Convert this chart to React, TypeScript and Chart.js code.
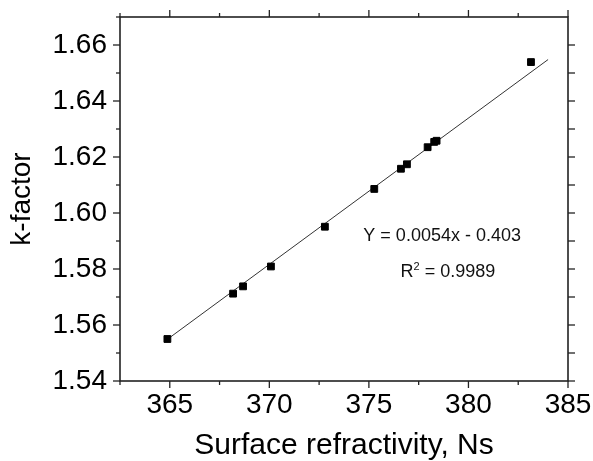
import { useEffect, useRef } from "react";
import { Chart, registerables } from "chart.js";

Chart.register(...registerables);

const FONT = '"Liberation Sans", Arial, sans-serif';

// Data
const surfaceRefractivity = [364.88, 368.18, 368.68, 370.08, 372.79, 375.27, 376.61, 376.91, 377.95, 378.28, 378.4, 383.14];
const kFactor = [1.555, 1.5712, 1.5738, 1.5809, 1.5951, 1.6086, 1.6158, 1.6174, 1.6235, 1.6254, 1.6258, 1.6539];
const fitLineX = [364.9, 384.0];
const fitLineY = [1.555, 1.6548];

// Axis ticks
const xMajorTicks = [365, 370, 375, 380, 385];
const xMinorTicks = [362.5, 367.5, 372.5, 377.5, 382.5];
const yMajorTicks = [1.54, 1.56, 1.58, 1.6, 1.62, 1.64, 1.66];
const yMinorTicks = [1.55, 1.57, 1.59, 1.61, 1.63, 1.65, 1.67];

const equationText = "Y = 0.0054x - 0.403";
const r2Base = "R";
const r2Sup = "2";
const r2Rest = " = 0.9989";

// annotation anchor positions (data units)
const eqAnchor = { x: 378.68, y: 1.5901 };
const r2Anchor = { x: 378.97, y: 1.577 };

const framePlugin = {
  id: "frame",
  afterDatasetsDraw(chart: any) {
    const { ctx, chartArea: a, scales } = chart;
    const xs = scales.x;
    const ys = scales.y;
    ctx.save();
    ctx.strokeStyle = "#222";
    ctx.lineWidth = 1.6;
    ctx.strokeRect(a.left, a.top, a.right - a.left, a.bottom - a.top);
    ctx.lineWidth = 1.3;
    const tick = (x1: number, y1: number, x2: number, y2: number) => {
      ctx.beginPath();
      ctx.moveTo(x1, y1);
      ctx.lineTo(x2, y2);
      ctx.stroke();
    };
    for (const v of xMajorTicks) {
      const px = xs.getPixelForValue(v);
      tick(px, a.bottom, px, a.bottom + 7);
      tick(px, a.top, px, a.top - 7);
    }
    for (const v of xMinorTicks) {
      const px = xs.getPixelForValue(v);
      tick(px, a.bottom, px, a.bottom + 4);
      tick(px, a.top, px, a.top - 4);
    }
    for (const v of yMajorTicks) {
      const py = ys.getPixelForValue(v);
      tick(a.left - 7, py, a.left, py);
      tick(a.right, py, a.right + 7, py);
    }
    for (const v of yMinorTicks) {
      const py = ys.getPixelForValue(v);
      tick(a.left - 4, py, a.left, py);
      if (v < 1.665) tick(a.right, py, a.right + 7, py);
    }

    // annotations
    ctx.fillStyle = "#111";
    ctx.textBaseline = "alphabetic";
    ctx.font = `18px ${FONT}`;
    ctx.textAlign = "center";
    ctx.fillText(equationText, xs.getPixelForValue(eqAnchor.x), ys.getPixelForValue(eqAnchor.y));

    ctx.textAlign = "left";
    const big = `18px ${FONT}`;
    const small = `11px ${FONT}`;
    ctx.font = big;
    const wR = ctx.measureText(r2Base).width;
    const wRest = ctx.measureText(r2Rest).width;
    ctx.font = small;
    const wSup = ctx.measureText(r2Sup).width;
    const total = wR + wSup + wRest;
    const cx = xs.getPixelForValue(r2Anchor.x);
    const by = ys.getPixelForValue(r2Anchor.y);
    let x0 = cx - total / 2;
    ctx.font = big;
    ctx.fillText(r2Base, x0, by);
    x0 += wR;
    ctx.font = small;
    ctx.fillText(r2Sup, x0, by - 7);
    x0 += wSup;
    ctx.font = big;
    ctx.fillText(r2Rest, x0, by);
    ctx.restore();
  },
};

export default function App() {
  const canvasRef = useRef<HTMLCanvasElement | null>(null);

  useEffect(() => {
    if (!canvasRef.current) return;
    const points = surfaceRefractivity.map((x, i) => ({ x, y: kFactor[i] }));
    const line = fitLineX.map((x, i) => ({ x, y: fitLineY[i] }));
    const chart = new Chart(canvasRef.current, {
      type: "scatter",
      data: {
        datasets: [
          {
            label: "k-factor",
            data: points,
            pointStyle: "rect",
            pointRadius: 4.8,
            pointBackgroundColor: "#000",
            pointBorderColor: "#000",
            pointBorderWidth: 1,
            showLine: false,
          },
          {
            label: "fit",
            type: "line",
            data: line,
            borderColor: "#333",
            borderWidth: 1,
            pointRadius: 0,
            showLine: true,
            fill: false,
          },
        ],
      },
      options: {
        animation: false,
        responsive: false,
        devicePixelRatio: 1,
        layout: { padding: { top: 17, right: 25, left: 0, bottom: 0 } },
        plugins: { legend: { display: false }, tooltip: { enabled: false } },
        scales: {
          x: {
            type: "linear",
            min: 362.5,
            max: 385,
            grid: { display: false, drawTicks: false },
            border: { display: false },
            ticks: {
              stepSize: 5,
              includeBounds: false,
              font: { family: FONT, size: 28 },
              color: "#000",
              padding: 7,
              maxRotation: 0,
              autoSkip: false,
            },
            title: {
              display: true,
              text: "Surface refractivity, Ns",
              font: { family: FONT, size: 30, lineHeight: 1 },
              color: "#000",
              padding: 0,
            },
            afterFit: (s: any) => {
              s.height = 80;
              s.paddingLeft = 0;
              s.paddingRight = 0;
            },
          },
          y: {
            type: "linear",
            min: 1.54,
            max: 1.67,
            grid: { display: false, drawTicks: false },
            border: { display: false },
            ticks: {
              stepSize: 0.02,
              includeBounds: false,
              font: { family: FONT, size: 28 },
              color: "#000",
              padding: 13,
              autoSkip: false,
              callback: (v: any) => Number(v).toFixed(2),
            },
            title: {
              display: true,
              text: "k-factor",
              font: { family: FONT, size: 28, lineHeight: 1 },
              color: "#000",
              padding: { top: 8, bottom: 0 },
            },
            afterFit: (s: any) => {
              s.width = 120;
              s.paddingTop = 0;
              s.paddingBottom = 0;
            },
          },
        },
      },
      plugins: [framePlugin],
    });
    return () => chart.destroy();
  }, []);

  return (
    <div style={{ position: "fixed", left: 0, top: 0, width: 593, height: 461, background: "#fff" }}>
      <canvas ref={canvasRef} width={593} height={461} />
    </div>
  );
}
